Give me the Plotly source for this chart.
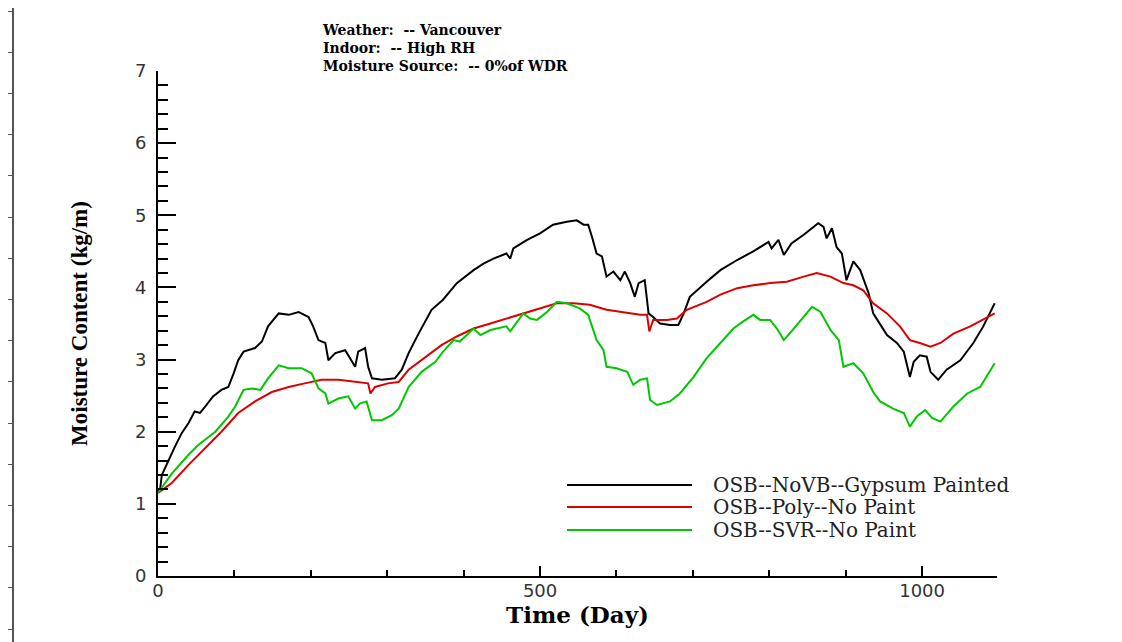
import plotly.graph_objects as go

# ---------------- data ----------------
black_day = [0, 3, 5, 14, 22, 31, 40, 48, 55, 62, 72, 83, 92, 99, 105, 112, 127, 136, 144, 158,
             171, 184, 197, 203, 210, 219, 223, 232, 245, 258, 262, 271, 275, 280, 293, 310, 319,
             328, 341, 358, 373, 391, 413, 426, 439, 456, 461, 465, 483, 500, 517, 535, 548, 557,
             563, 568, 574, 581, 587, 596, 605, 611, 618, 624, 629, 637, 642, 648, 657, 670, 681,
             688, 696, 718, 736, 758, 779, 799, 803, 812, 819, 829, 845, 864, 871, 875, 882, 888,
             895, 901, 910, 919, 930, 936, 945, 954, 967, 976, 984, 989, 997, 1006, 1011, 1021,
             1032, 1050, 1067, 1080, 1095]
black_mc = [1.15, 1.22, 1.40, 1.61, 1.79, 1.98, 2.12, 2.28, 2.26, 2.35, 2.49, 2.58, 2.62, 2.81, 2.99,
            3.11, 3.16, 3.25, 3.46, 3.64, 3.62, 3.66, 3.59, 3.46, 3.27, 3.23, 2.99, 3.09, 3.13, 2.90,
            3.11, 3.16, 2.90, 2.74, 2.72, 2.74, 2.86, 3.09, 3.36, 3.69, 3.83, 4.06, 4.24, 4.33, 4.40,
            4.47, 4.40, 4.54, 4.66, 4.75, 4.87, 4.91, 4.93, 4.87, 4.87, 4.70, 4.47, 4.43, 4.15, 4.22,
            4.10, 4.22, 4.06, 3.87, 4.06, 4.10, 3.64, 3.59, 3.50, 3.48, 3.48, 3.64, 3.87, 4.08, 4.24,
            4.38, 4.50, 4.63, 4.54, 4.66, 4.45, 4.61, 4.73, 4.89, 4.84, 4.68, 4.82, 4.56, 4.47, 4.10,
            4.36, 4.24, 3.92, 3.64, 3.48, 3.34, 3.23, 3.11, 2.76, 2.97, 3.06, 3.04, 2.83, 2.72, 2.86,
            2.99, 3.23, 3.46, 3.78]

red_day = [0, 18, 40, 62, 83, 105, 127, 149, 171, 192, 214, 236, 258, 275, 278, 284, 301, 315, 328,
           350, 371, 391, 413, 435, 456, 478, 500, 522, 544, 565, 587, 609, 631, 640, 643, 648, 666,
           679, 692, 718, 736, 758, 779, 801, 823, 845, 862, 880, 897, 910, 923, 936, 954, 971, 984,
           997, 1011, 1024, 1041, 1063, 1080, 1095]
red_mc = [1.15, 1.29, 1.54, 1.77, 2.00, 2.26, 2.42, 2.55, 2.62, 2.67, 2.72, 2.72, 2.69, 2.67, 2.53,
          2.62, 2.67, 2.69, 2.86, 3.04, 3.20, 3.32, 3.43, 3.50, 3.57, 3.64, 3.71, 3.78, 3.78, 3.76,
          3.69, 3.66, 3.62, 3.62, 3.39, 3.55, 3.55, 3.57, 3.69, 3.80, 3.90, 3.99, 4.03, 4.06, 4.08,
          4.15, 4.20, 4.15, 4.06, 4.03, 3.96, 3.78, 3.64, 3.46, 3.27, 3.23, 3.18, 3.23, 3.36, 3.46,
          3.55, 3.64]

green_day = [0, 18, 40, 53, 75, 92, 101, 112, 123, 134, 144, 158, 171, 188, 201, 210, 219, 223, 236,
             249, 258, 264, 273, 280, 293, 306, 315, 328, 345, 363, 373, 387, 395, 413, 422, 435,
             456, 461, 478, 487, 496, 509, 522, 535, 552, 563, 574, 583, 587, 600, 614, 622, 631,
             640, 644, 653, 670, 683, 701, 718, 736, 753, 766, 779, 788, 801, 810, 819, 829, 842,
             856, 867, 880, 891, 897, 910, 923, 936, 945, 962, 976, 984, 993, 1004, 1013, 1024,
             1041, 1059, 1076, 1095]
green_mc = [1.15, 1.42, 1.68, 1.82, 2.00, 2.21, 2.35, 2.58, 2.60, 2.58, 2.74, 2.92, 2.88, 2.88, 2.81,
            2.60, 2.53, 2.39, 2.46, 2.49, 2.32, 2.39, 2.42, 2.16, 2.16, 2.23, 2.32, 2.62, 2.83, 2.97,
            3.11, 3.27, 3.25, 3.43, 3.34, 3.41, 3.46, 3.39, 3.64, 3.57, 3.55, 3.66, 3.80, 3.78, 3.71,
            3.62, 3.27, 3.13, 2.90, 2.88, 2.83, 2.65, 2.72, 2.74, 2.44, 2.37, 2.42, 2.53, 2.76, 3.02,
            3.23, 3.43, 3.53, 3.62, 3.55, 3.55, 3.43, 3.27, 3.39, 3.55, 3.73, 3.66, 3.41, 3.27, 2.90,
            2.95, 2.81, 2.55, 2.42, 2.32, 2.26, 2.07, 2.21, 2.30, 2.19, 2.14, 2.35, 2.53, 2.62, 2.95]

series_names = ["OSB--NoVB--Gypsum Painted", "OSB--Poly--No Paint", "OSB--SVR--No Paint"]
header_lines = ["Weather:  -- Vancouver", "Indoor:  -- High RH", "Moisture Source:  -- 0%of WDR"]

colors = ["#000000", "#dd0000", "#00c800"]

# the page body has an 8 px margin, so the figure is drawn 8 px in from the window corner
OFF = 8
W, H = 1122 - OFF, 642 - OFF


def px(x):
    return (x - OFF) / W


def py(y):
    return 1 - (y - OFF) / H


fig = go.Figure()
for d, v, c, n in zip([black_day, red_day, green_day], [black_mc, red_mc, green_mc], colors, series_names):
    fig.add_trace(go.Scatter(x=d, y=v, mode="lines", name=n, line=dict(color=c, width=2),
                             showlegend=False))

# helper trace so the decorative left frame axis is drawn
fig.add_trace(go.Scatter(x=[None], y=[None], yaxis="y2", mode="lines", showlegend=False,
                         hoverinfo="skip"))

tick_font = dict(family="DejaVu Sans", size=18, color="#333333")

fig.update_layout(
    width=W, height=H,
    margin=dict(l=0, r=0, t=0, b=0, autoexpand=False),
    paper_bgcolor="white", plot_bgcolor="rgba(0,0,0,0)",
    xaxis=dict(domain=[px(158), px(997)], range=[0, 1098], showgrid=False, zeroline=False,
               automargin=False,
               showline=True, linecolor="black", linewidth=2, ticks="inside", ticklen=10,
               tickwidth=2, tickcolor="black", tick0=0, dtick=500, tickfont=tick_font,
               ticklabelstandoff=-3,
               minor=dict(dtick=100, ticks="inside", ticklen=6, tickwidth=1.5, tickcolor="black"),
               title=dict(text="<b>Time (Day)</b>", font=dict(family="DejaVu Serif", size=23,
                                                                color="black"), standoff=0)),
    yaxis=dict(domain=[py(576), py(71)], range=[0, 7], showgrid=False, zeroline=False,
               automargin=False,
               showline=True, linecolor="black", linewidth=2, ticks="inside", ticklen=18,
               tickwidth=2, tickcolor="black", tick0=0, dtick=1, tickfont=tick_font,
               ticklabelstandoff=6,
               minor=dict(dtick=0.2, ticks="inside", ticklen=10, tickwidth=1.5, tickcolor="black"),
               title=dict(text="<b>Moisture Content (kg/m)</b>",
                          font=dict(family="Liberation Serif", size=23, color="black"),
                          standoff=41)),
    yaxis2=dict(domain=[0, 1], range=[0, H], anchor="free", position=px(13), side="left",
                automargin=False,
                showgrid=False, zeroline=False, showline=True, linecolor="#555555", linewidth=2,
                ticks="outside", ticklen=7, tickwidth=1, tickcolor="#555555", tick0=13, dtick=41.2,
                showticklabels=False, fixedrange=True),
)

# header text block
fig.add_annotation(x=px(320), y=py(20), xref="paper", yref="paper",
                   text="<br>".join("<b>" + s + "</b>" for s in header_lines),
                   showarrow=False, xanchor="left", yanchor="top", align="left",
                   font=dict(family="DejaVu Serif", size=14, color="black"))

# custom legend (long line samples, as in the reference)
leg_y = [485, 507, 530]
for c, n, yy in zip(colors, series_names, leg_y):
    fig.add_shape(type="line", xref="paper", yref="paper", x0=px(567), x1=px(692),
                  y0=py(yy), y1=py(yy), line=dict(color=c, width=2))
    fig.add_annotation(x=px(711), y=py(yy), xref="paper", yref="paper", text=n,
                       showarrow=False, xanchor="left", yanchor="middle",
                       font=dict(family="DejaVu Serif", size=20, color="#222222"))

fig.write_html("out.html")
